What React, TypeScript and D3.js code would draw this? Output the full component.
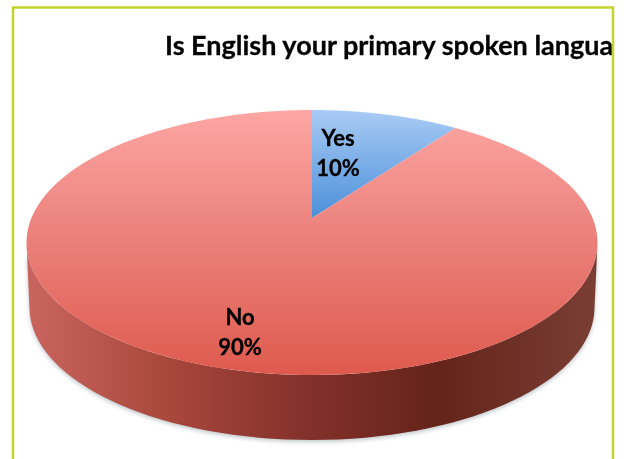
import React from "react";
import * as d3 from "d3";

const categories = ["Yes", "No"];
const values = [10, 90];
const percentLabels = ["10%", "90%"];
const titleText = "Is English your primary spoken language?";

const W = 624, H = 459;
const cx = 312, apexY = 218, topY = 110, botY = 375, rx = 285.5, depth = 65;

// perspective projection of the pie's flat disc
const farR = apexY - topY, nearR = botY - apexY;
const persp = (nearR - farR) / (nearR + farR);
const hScale = farR * (1 + persp);
const wScale = rx * Math.sqrt(1 - persp * persp);
const project = (a: number, r = 1): [number, number] => {
  const u = r * Math.sin(a), v = r * Math.cos(a);
  const k = 1 + persp * v;
  return [cx + (wScale * u) / k, apexY - (hScale * v) / k];
};

const pieLayout = d3.pie<number>().sort(null).startAngle(0).endAngle(2 * Math.PI);
const arcs = pieLayout(values);
const line = d3.line();

const rim = (a0: number, a1: number): [number, number][] =>
  d3.range(0, 161).map((i) => project(a0 + ((a1 - a0) * i) / 160));

const slicePath = (a0: number, a1: number) =>
  line([[cx, apexY], ...rim(a0, a1)]) + "Z";

const fullRim = rim(0, 2 * Math.PI);
const frontRim = fullRim.filter((p) => p[1] >= (topY + botY) / 2 - 1).sort((a, b) => a[0] - b[0]);
const sidePath = line([...frontRim, ...frontRim.slice().reverse().map(([x, y]) => {
  const t = (x - cx) / rx;
  return [cx + t * (rx - 3), y + depth] as [number, number];
})]) + "Z";

const labelPos = [
  { x: 338, y: 146 },
  { x: 240, y: 325 },
];

export default function App() {
  return (
    <svg width={W} height={H} viewBox={`0 0 ${W} ${H}`}
      style={{ position: "absolute", left: 0, top: 0, background: "#fff" }}>
      <defs>
        <linearGradient id="noTop" x1="0" y1={topY} x2="0" y2={botY} gradientUnits="userSpaceOnUse">
          <stop offset="0" stopColor="#fda6a3" />
          <stop offset="0.5" stopColor="#ea7f79" />
          <stop offset="1" stopColor="#df5a4e" />
        </linearGradient>
        <linearGradient id="yesTop" x1="0" y1={topY} x2="0" y2={apexY} gradientUnits="userSpaceOnUse">
          <stop offset="0" stopColor="#a9cbf6" />
          <stop offset="1" stopColor="#4b90d8" />
        </linearGradient>
        <linearGradient id="side" x1={cx - rx} y1="0" x2={cx + rx} y2="0" gradientUnits="userSpaceOnUse">
          <stop offset="0" stopColor="#c9655e" />
          <stop offset="0.25" stopColor="#a8473c" />
          <stop offset="0.5" stopColor="#82302a" />
          <stop offset="0.72" stopColor="#642419" />
          <stop offset="1" stopColor="#7a3e35" />
        </linearGradient>
        <filter id="soft" x="-5%" y="-5%" width="110%" height="110%">
          <feGaussianBlur stdDeviation="2" />
        </filter>
        <filter id="tiny"><feGaussianBlur stdDeviation="0.35" /></filter>
        <clipPath id="titleClip"><rect x="0" y="0" width="612" height={H} /></clipPath>
      </defs>

      <path d={sidePath} transform="translate(0,2)" fill="#8d9aa0" opacity={0.55} filter="url(#soft)" />
      <path d={sidePath} fill="url(#side)" />
      {arcs.map((d, i) => (
        <path key={categories[i]} d={slicePath(d.startAngle, d.endAngle)}
          fill={i === 0 ? "url(#yesTop)" : "url(#noTop)"} />
      ))}

      <g clipPath="url(#titleClip)">
        <g filter="url(#tiny)" fontFamily="Lato, sans-serif" fontWeight={700} fill="#050505"
          stroke="#050505" strokeWidth={0.3}>
          <text x={165} y={55} fontSize={27}>
            {titleText}
          </text>
          {categories.map((c, i) => (
            <g key={c} textAnchor="middle" fontSize={22}>
              <text x={labelPos[i].x} y={labelPos[i].y}>{c}</text>
              <text x={labelPos[i].x} y={labelPos[i].y + 29.5}>{percentLabels[i]}</text>
            </g>
          ))}
        </g>
      </g>

      <g fill="none" stroke="#c3d32c" strokeWidth={2.5}>
        <path d={`M13,459V7.5H613V459`} />
      </g>
    </svg>
  );
}
